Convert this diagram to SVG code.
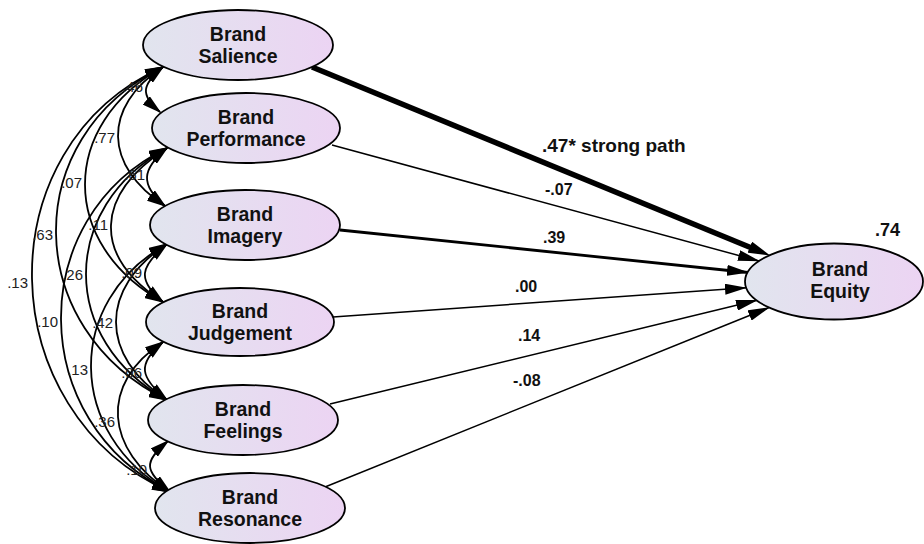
<svg xmlns="http://www.w3.org/2000/svg" width="924" height="544" viewBox="0 0 924 544">
<style>
.node ellipse{fill:url(#nodeFill);stroke:#000;stroke-width:1.8}
.node text{font-family:"Liberation Sans",Arial,sans-serif;font-weight:bold;font-size:19.5px;fill:#111;text-anchor:middle}
.cov{fill:none;stroke:#000;stroke-width:1.8;marker-start:url(#covHead);marker-end:url(#covHead)}
.path{fill:none;stroke:#000;marker-end:url(#pathHead)}
.clab{font-family:"Liberation Sans",Arial,sans-serif;font-size:15px;fill:#222;text-anchor:end}
.plab{font-family:"Liberation Sans",Arial,sans-serif;font-weight:bold;font-size:16px;fill:#111}
.big{font-size:19px}
.r2{font-size:18px}
</style>
<defs>
<linearGradient id="nodeFill" x1="0" y1="0" x2="1" y2="0">
<stop offset="0" stop-color="#e1e5ee"/>
<stop offset="1" stop-color="#ecd4f3"/>
</linearGradient>
<marker id="covHead" markerUnits="userSpaceOnUse" markerWidth="20" markerHeight="11" refX="18" refY="5.5" orient="auto-start-reverse">
<path d="M0,0 L20,5.5 L0,11 z" fill="#000"/>
</marker>
<marker id="pathHead" markerUnits="userSpaceOnUse" markerWidth="22" markerHeight="11" refX="21" refY="5.5" orient="auto">
<path d="M0,0 L22,5.5 L0,11 z" fill="#000"/>
</marker>
<marker id="pathHeadThick" markerUnits="userSpaceOnUse" markerWidth="22" markerHeight="12" refX="10" refY="6" orient="auto">
<path d="M0,0 L22,6 L0,12 z" fill="#000"/>
</marker>
</defs>
<rect width="924" height="544" fill="#fff"/>

<g id="connectors">
<path class="cov" d="M163,67 C142.3,84.4 139.3,94.6 160,112"/>
<path class="cov" d="M163,67 C101.7,106.8 103.7,166.2 165,206"/>
<path class="cov" d="M163,67 C59,124.6 59,244.4 163,302"/>
<path class="cov" d="M163,67 C17.7,137.9 21.7,329.1 167,400"/>
<path class="cov" d="M163,67 C-16.3,146.8 -9.3,412.2 170,492"/>
<path class="cov" d="M167,148 C141.7,169.3 139.7,184.7 165,206"/>
<path class="cov" d="M167,148 C95,194.8 91,255.2 163,302"/>
<path class="cov" d="M167,148 C59,207.9 59,340.1 167,400"/>
<path class="cov" d="M167,148 C23.7,217.9 26.7,422.1 170,492"/>
<path class="cov" d="M167,244 C140.3,266.4 136.3,279.6 163,302"/>
<path class="cov" d="M167,244 C99,288.2 99,355.8 167,400"/>
<path class="cov" d="M167,244 C63.7,301.3 66.7,434.7 170,492"/>
<path class="cov" d="M163,342 C136.3,364.4 140.3,377.6 167,400"/>
<path class="cov" d="M163,342 C98.3,384 105.3,450 170,492"/>
<path class="cov" d="M168,441 C142.7,462.3 144.7,470.7 170,492"/>
<path class="path" d="M312,67 L759,251" stroke-width="5.5" style="marker-end:url(#pathHeadThick)"/>
<path class="path" d="M332,145 L759,261" stroke-width="1.5"/>
<path class="path" d="M340,230 L748,272.5" stroke-width="2.8"/>
<path class="path" d="M333,317 L746,287.7" stroke-width="1.5"/>
<path class="path" d="M330,404 L757,300.3" stroke-width="1.5"/>
<path class="path" d="M325,487 L769,307.6" stroke-width="1.5"/>
</g>

<g id="covariance-labels">
<text class="clab" x="143" y="92">.46</text>
<text class="clab" x="115" y="143">.77</text>
<text class="clab" x="82" y="188">.07</text>
<text class="clab" x="53" y="240">.63</text>
<text class="clab" x="28" y="288">.13</text>
<text class="clab" x="145" y="180">.61</text>
<text class="clab" x="108" y="230">.11</text>
<text class="clab" x="83" y="280">.26</text>
<text class="clab" x="58" y="327">.10</text>
<text class="clab" x="142" y="278">.09</text>
<text class="clab" x="113" y="328">.42</text>
<text class="clab" x="88" y="375">.13</text>
<text class="clab" x="142" y="378">.06</text>
<text class="clab" x="115" y="427">.36</text>
<text class="clab" x="147" y="475">.10</text>
</g>

<g id="path-labels">
<text class="plab big" x="542" y="152">.47* strong path</text>
<text class="plab" x="545" y="195">-.07</text>
<text class="plab" x="543" y="243">.39</text>
<text class="plab" x="515" y="292">.00</text>
<text class="plab" x="518" y="341">.14</text>
<text class="plab" x="513" y="386">-.08</text>
<text class="plab r2" x="875" y="236">.74</text>
</g>

<g id="brand-salience" class="node">
<ellipse cx="238" cy="45" rx="95" ry="35"/>
<text x="238" y="40.5">Brand</text>
<text x="238" y="62.5">Salience</text>
</g>
<g id="brand-performance" class="node">
<ellipse cx="246" cy="128" rx="94" ry="35"/>
<text x="246" y="123.5">Brand</text>
<text x="246" y="145.5">Performance</text>
</g>
<g id="brand-imagery" class="node">
<ellipse cx="245" cy="225" rx="95" ry="35"/>
<text x="245" y="220.5">Brand</text>
<text x="245" y="242.5">Imagery</text>
</g>
<g id="brand-judgement" class="node">
<ellipse cx="240" cy="322" rx="94" ry="34"/>
<text x="240" y="317.5">Brand</text>
<text x="240" y="339.5">Judgement</text>
</g>
<g id="brand-feelings" class="node">
<ellipse cx="243" cy="420" rx="95" ry="35"/>
<text x="243" y="415.5">Brand</text>
<text x="243" y="437.5">Feelings</text>
</g>
<g id="brand-resonance" class="node">
<ellipse cx="250" cy="508" rx="95" ry="35"/>
<text x="250" y="503.5">Brand</text>
<text x="250" y="525.5">Resonance</text>
</g>
<g id="brand-equity" class="node">
<ellipse cx="834" cy="281.5" rx="89" ry="38"/>
<text x="840" y="276">Brand</text>
<text x="840" y="298">Equity</text>
</g>
</svg>
